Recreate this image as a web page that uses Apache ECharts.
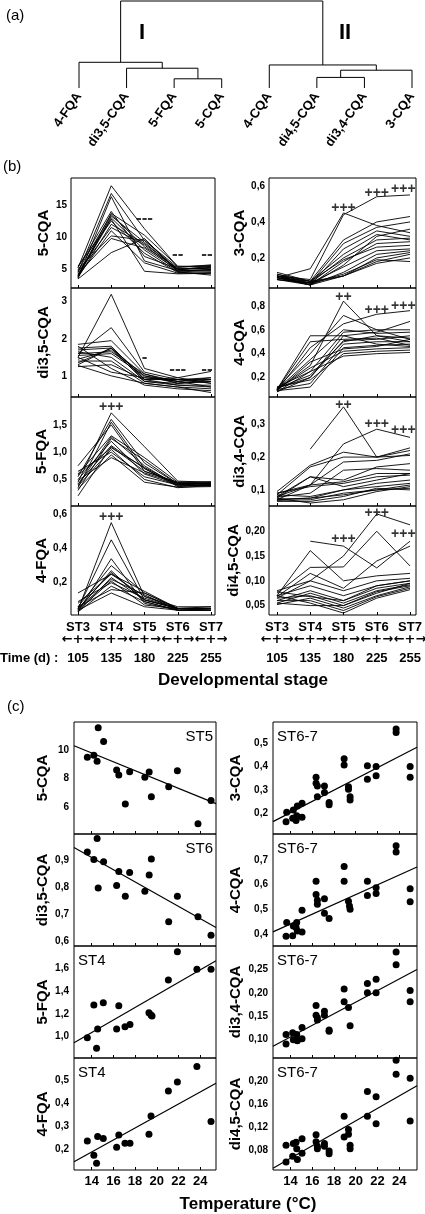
<!DOCTYPE html>
<html><head><meta charset="utf-8">
<script src="https://cdn.jsdelivr.net/npm/echarts@6/dist/echarts.min.js"></script>
<style>html,body{margin:0;padding:0;background:#fff}#c{width:425px;height:1214px}</style>
</head><body><div id="c"></div>
<script>
// ================= DATA =================
// (a) dendrogram
const leaves = ['4-FQA','di3,5-CQA','5-FQA','5-CQA','4-CQA','di4,5-CQA','di3,4-CQA','3-CQA'];
// [left node, right node, height]; nodes 0-7 = leaves, 8.. = merges in order
const merges = [[2,3,9.3],[1,8,20],[0,9,26],[5,6,10.7],[11,7,18],[4,12,23.3],[10,13,88]];
const clusterNames = ['I','II'];

// (b) developmental stages
const stages = ['ST3','ST4','ST5','ST6','ST7'];
const days = ['105','135','180','225','255'];

const b5CQA = [
 [5.2,18.0,11.3,5.4,5.6],[4.5,16.8,9.5,5.0,5.2],[3.6,16.3,6.3,4.8,4.9],[4.0,13.7,10.3,5.5,5.4],
 [4.8,13.5,8.5,5.2,5.0],[3.8,13.3,9.2,4.9,5.5],[4.2,13.0,8.0,4.6,4.8],[5.5,12.5,7.5,4.5,4.3],
 [3.7,12.0,9.0,5.0,5.2],[4.6,11.5,8.8,4.7,5.0],[3.9,11.0,6.0,4.4,4.5],[5.0,10.2,9.5,5.3,5.7],
 [4.3,9.8,8.3,4.9,4.7],[3.5,7.6,9.8,4.6,4.1],[4.0,12.8,4.7,4.3,4.4],[5.3,14.0,7.0,5.1,5.3]];
const bDi35CQA = [
 [1.5,3.2,1.2,0.95,1.12],[1.6,2.3,1.1,0.9,0.95],[1.85,1.95,1.05,0.85,0.9],[1.3,1.75,1.0,0.8,0.85],
 [1.7,1.75,0.95,0.9,0.8],[1.45,1.7,0.9,0.75,0.75],[1.55,1.6,1.0,0.85,0.7],[1.65,1.5,0.85,0.8,0.9],
 [1.4,1.4,0.8,0.7,0.65],[1.25,1.3,0.9,0.95,0.8],[1.8,1.2,0.75,0.65,0.6],[1.5,1.1,0.95,0.85,0.95],
 [1.35,1.75,0.85,0.75,0.7],[1.6,1.65,1.05,0.8,0.85],[1.28,1.0,0.8,0.7,0.55],[1.75,1.8,0.9,0.9,0.9]];
const b5FQA = [
 [0.45,1.72,1.1,0.47,0.45],[0.55,1.6,0.8,0.42,0.42],[0.35,1.55,0.7,0.4,0.4],[0.75,1.5,0.65,0.45,0.44],
 [0.6,1.3,0.9,0.45,0.46],[0.4,1.28,0.75,0.38,0.4],[0.3,1.25,0.85,0.42,0.43],[0.5,1.2,0.6,0.4,0.38],
 [0.42,1.12,0.7,0.37,0.41],[0.2,1.1,0.65,0.44,0.42],[0.38,1.05,0.5,0.35,0.39],[0.65,1.0,0.55,0.4,0.44],
 [0.33,0.95,0.45,0.36,0.37],[0.48,0.9,0.62,0.43,0.42],[0.58,1.08,0.72,0.41,0.4]];
const b4FQA = [
 [0.04,0.55,0.12,0.05,0.05],[0.05,0.45,0.1,0.05,0.05],[0.03,0.34,0.08,0.04,0.04],[0.06,0.3,0.14,0.05,0.05],
 [0.04,0.27,0.09,0.04,0.05],[0.14,0.25,0.15,0.05,0.04],[0.08,0.25,0.12,0.06,0.06],[0.03,0.23,0.1,0.05,0.05],
 [0.05,0.22,0.13,0.04,0.04],[0.04,0.21,0.07,0.05,0.06],[0.09,0.2,0.11,0.05,0.05],[0.03,0.18,0.09,0.04,0.04],
 [0.06,0.16,0.14,0.05,0.05],[0.04,0.14,0.06,0.04,0.04],[0.05,0.26,0.1,0.05,0.05]];
const b3CQA = [
 [0.1,0.08,0.44,0.54,0.55],[0.09,0.14,0.45,0.38,0.34],[0.12,0.07,0.3,0.4,0.43],[0.08,0.06,0.28,0.37,0.4],
 [0.1,0.05,0.25,0.35,0.32],[0.09,0.07,0.22,0.33,0.3],[0.11,0.06,0.2,0.3,0.31],[0.08,0.05,0.18,0.28,0.29],
 [0.1,0.07,0.19,0.26,0.27],[0.09,0.06,0.15,0.24,0.25],[0.1,0.05,0.12,0.22,0.24],[0.08,0.06,0.1,0.2,0.23],
 [0.09,0.05,0.1,0.18,0.22],[0.11,0.07,0.1,0.17,0.2],[0.1,0.06,0.11,0.19,0.18],[0.09,0.05,0.16,0.32,0.36]];
const b4CQA = [
 [0.1,0.3,0.84,0.55,0.5],[0.11,0.4,0.72,0.6,0.52],[0.1,0.55,0.55,0.58,0.67],[0.09,0.45,0.65,0.73,0.76],
 [0.12,0.25,0.58,0.6,0.6],[0.1,0.35,0.6,0.57,0.58],[0.08,0.2,0.51,0.52,0.55],[0.11,0.22,0.5,0.55,0.53],
 [0.1,0.15,0.48,0.5,0.5],[0.09,0.12,0.45,0.47,0.48],[0.1,0.28,0.42,0.44,0.45],[0.12,0.18,0.4,0.42,0.43],
 [0.08,0.25,0.38,0.4,0.41],[0.1,0.5,0.52,0.53,0.47],[0.09,0.33,0.44,0.46,0.52],[0.11,0.2,0.55,0.48,0.46]];
const bDi34CQA = [
 [null,0.224,0.353,0.2,0.205],[0.09,0.115,0.24,0.285,0.26],[0.095,0.175,0.215,0.2,0.228],[0.085,0.17,0.2,0.2,0.22],
 [0.08,0.115,0.185,0.19,0.21],[0.075,0.14,0.13,0.17,0.18],[0.07,0.115,0.125,0.15,0.15],[0.08,0.14,0.11,0.13,0.15],
 [0.072,0.075,0.1,0.12,0.13],[0.09,0.11,0.12,0.14,0.145],[0.068,0.07,0.09,0.1,0.115],[0.075,0.06,0.07,0.095,0.11],
 [0.085,0.08,0.1,0.11,0.12],[0.07,0.075,0.085,0.1,0.105],[0.078,0.09,0.16,0.165,0.16],[0.065,0.065,0.08,0.105,0.1]];
const bDi45CQA = [
 [null,0.18,0.17,0.126,0.18],[0.08,0.1,0.15,0.235,0.213],[0.07,0.161,0.1,0.11,0.115],[0.075,0.127,0.128,0.2,0.13],
 [0.068,0.115,0.085,0.14,0.17],[0.065,0.1,0.08,0.1,0.105],[0.07,0.09,0.07,0.09,0.1],[0.06,0.08,0.06,0.085,0.095],
 [0.055,0.075,0.055,0.08,0.092],[0.065,0.07,0.05,0.078,0.09],[0.052,0.065,0.045,0.07,0.088],[0.06,0.06,0.04,0.068,0.085],
 [0.07,0.055,0.035,0.065,0.082],[0.055,0.05,0.05,0.075,0.095],[0.078,0.068,0.06,0.09,0.1]];

// significance marks [stage index, value, text]
const bMarks5CQA = [[2,13.0,'---'],[3,7.3,'--'],[3.88,7.3,'--']];
const bMarksDi35CQA = [[2,1.5,'-'],[3,1.17,'---'],[3.88,1.17,'--']];
const bMarks5FQA = [[1,1.83,'+++']];
const bMarks4FQA = [[1,0.58,'+++']];
const bMarks3CQA = [[2,0.475,'+++'],[3,0.56,'+++'],[3.8,0.58,'+++']];
const bMarks4CQA = [[2,0.876,'++'],[3,0.765,'+++'],[3.8,0.8,'+++']];
const bMarksDi34CQA = [[2,0.359,'++'],[3,0.3,'+++'],[3.8,0.283,'+++']];
const bMarksDi45CQA = [[2,0.185,'+++'],[3,0.237,'+++'],[3.8,0.195,'+++']];

// (c) temperature correlations [temperature °C, value]
const c5CQA = [[13.6,9.49],[14.2,9.63],[14.5,9.21],[14.6,11.56],[15.1,10.6],[16.3,8.6],[16.5,8.26],[17.1,6.23],[17.5,8.49],[18.9,8.09],[19.3,8.47],[19.5,6.74],[21.1,7.44],[21.9,8.56],[23.8,4.84],[25.0,6.47]];
const cDi35CQA = [[13.6,0.930],[14.2,0.902],[14.5,0.979],[14.6,0.797],[15.1,0.894],[16.3,0.807],[16.5,0.858],[17.1,0.767],[17.5,0.854],[18.9,0.785],[19.3,0.845],[19.5,0.904],[21.1,0.673],[21.9,0.767],[23.8,0.692],[25.0,0.624]];
const c5FQA = [[13.6,0.991],[14.2,1.278],[14.45,0.898],[14.55,1.067],[15.07,1.299],[16.3,1.067],[16.5,1.272],[17.07,1.088],[17.53,1.108],[19.28,1.211],[19.47,1.19],[19.56,1.181],[21.07,1.498],[21.9,1.746],[23.7,1.591],[25.0,1.591]];
const c4FQA = [[13.6,0.236],[14.2,0.174],[14.45,0.139],[14.55,0.255],[15.07,0.246],[16.3,0.209],[16.5,0.262],[17.07,0.226],[17.53,0.226],[19.28,0.265],[19.47,0.344],[21.07,0.452],[21.9,0.491],[23.7,0.558],[25.0,0.320]];
const c3CQA = [[13.6,0.164],[13.66,0.204],[14.21,0.179],[14.27,0.214],[14.52,0.169],[14.58,0.189],[14.64,0.231],[15.07,0.183],[15.07,0.243],[16.36,0.354],[16.36,0.329],[16.48,0.317],[16.48,0.271],[17.13,0.317],[17.13,0.289],[17.56,0.246],[17.56,0.236],[18.94,0.433],[18.94,0.407],[19.34,0.314],[19.34,0.303],[19.49,0.271],[19.49,0.257],[21.08,0.403],[21.08,0.346],[21.88,0.4],[21.88,0.361],[23.72,0.561],[23.72,0.546],[25.01,0.4],[25.01,0.354]];
const c4CQA = [[13.6,0.391],[13.66,0.447],[14.21,0.393],[14.27,0.433],[14.52,0.427],[14.58,0.447],[14.64,0.413],[15.07,0.409],[15.07,0.496],[16.36,0.613],[16.36,0.56],[16.48,0.537],[16.48,0.52],[17.13,0.543],[17.13,0.484],[17.56,0.463],[18.94,0.673],[18.94,0.613],[19.34,0.533],[19.43,0.513],[19.49,0.5],[21.08,0.613],[21.08,0.556],[21.88,0.587],[21.88,0.564],[23.72,0.757],[23.72,0.731],[25.01,0.583],[25.01,0.531]];
const cDi34CQA = [[13.6,0.111],[13.6,0.091],[14.21,0.115],[14.27,0.1],[14.52,0.1],[14.58,0.111],[14.64,0.098],[15.07,0.102],[15.07,0.126],[16.36,0.173],[16.36,0.152],[16.48,0.142],[16.48,0.147],[17.13,0.161],[17.13,0.152],[17.56,0.121],[17.56,0.118],[18.94,0.208],[18.94,0.181],[19.34,0.169],[19.49,0.13],[21.08,0.22],[21.08,0.2],[21.88,0.229],[21.88,0.2],[23.72,0.287],[23.72,0.26],[25.01,0.205],[25.01,0.181]];
const cDi45CQA = [[13.6,0.089],[13.6,0.06],[14.21,0.07],[14.27,0.092],[14.52,0.094],[14.58,0.083],[14.64,0.064],[15.07,0.1],[15.07,0.075],[16.36,0.107],[16.36,0.095],[16.48,0.087],[16.48,0.083],[17.13,0.092],[17.13,0.087],[17.56,0.079],[17.56,0.074],[18.94,0.139],[18.94,0.103],[19.34,0.116],[19.34,0.108],[19.49,0.089],[19.49,0.083],[21.08,0.182],[21.08,0.139],[21.88,0.173],[21.88,0.126],[23.72,0.236],[23.72,0.212],[25.01,0.205],[25.01,0.131]];
// regression lines: [[T0,v0],[T1,v1]]
const fit5CQA = [[12.37,10.3],[25.46,6.25]];
const fitDi35CQA = [[12.37,0.946],[25.46,0.652]];
const fit5FQA = [[12.37,0.947],[25.46,1.667]];
const fit4FQA = [[12.37,0.146],[25.46,0.486]];
const fit3CQA = [[12.4,0.164],[25.64,0.483]];
const fit4CQA = [[12.4,0.409],[25.64,0.671]];
const fitDi34CQA = [[12.4,0.086],[25.64,0.25]];
const fitDi45CQA = [[12.4,0.049],[25.64,0.192]];
const cStageLabels = ['ST5','ST6','ST4','ST4','ST6-7','ST6-7','ST6-7','ST6-7'];

// tick label values
const tempTicks = [14,16,18,20,22,24];
const stageTicks = [0,1,2,3,4];

// ================= BUILD =================
const FONT = '"Liberation Sans", Arial, Helvetica, sans-serif';
const grids=[], xAxes=[], yAxes=[], series=[], graphics=[];
const fmt = d => v => (+v).toFixed(d).replace('.',',');

// (a) dendrogram
(function(){
  grids.push({left:79,right:13,top:1,height:87,show:false,outerBoundsMode:'none'});
  xAxes.push({gridIndex:0,type:'value',min:0,max:7,axisLine:{show:false},axisTick:{show:false},splitLine:{show:false},
    axisLabel:{customValues:leaves.map((_,i)=>i),formatter:v=>leaves[Math.round(v)],rotate:55,margin:6,
      fontFamily:FONT,fontWeight:'bold',fontSize:13,color:'#000'}});
  yAxes.push({gridIndex:0,type:'value',min:0,max:88,show:false});
  const nx = leaves.map((_,i)=>i), nh = leaves.map(()=>0), segs=[];
  merges.forEach(([a,b,h])=>{
    segs.push({coords:[[nx[a],nh[a]],[nx[a],h],[nx[b],h],[nx[b],nh[b]]]});
    nx.push((nx[a]+nx[b])/2); nh.push(h);
  });
  series.push({type:'lines',coordinateSystem:'cartesian2d',xAxisIndex:0,yAxisIndex:0,polyline:true,data:segs,
    lineStyle:{color:'#000',width:1,opacity:1},silent:true,clip:false});
})();

// (b) panels
const bPanels = [
 {name:'5-CQA',lines:b5CQA,marks:bMarks5CQA,ticks:[5,10,15],dec:0,range:[2.1,19.2],col:0,row:0},
 {name:'di3,5-CQA',lines:bDi35CQA,marks:bMarksDi35CQA,ticks:[1,2,3],dec:0,range:[0.43,3.37],col:0,row:1},
 {name:'5-FQA',lines:b5FQA,marks:bMarks5FQA,ticks:[0.5,1.0,1.5],dec:1,range:[0.015,2.01],col:0,row:2},
 {name:'4-FQA',lines:b4FQA,marks:bMarks4FQA,ticks:[0.2,0.4,0.6],dec:1,range:[0.012,0.647],col:0,row:3},
 {name:'3-CQA',lines:b3CQA,marks:bMarks3CQA,ticks:[0.2,0.4,0.6],dec:1,range:[0.033,0.644],col:1,row:0},
 {name:'4-CQA',lines:b4CQA,marks:bMarks4CQA,ticks:[0.2,0.4,0.6,0.8],dec:1,range:[0.037,0.95],col:1,row:1},
 {name:'di3,4-CQA',lines:bDi34CQA,marks:bMarksDi34CQA,ticks:[0.1,0.2,0.3],dec:1,range:[0.051,0.383],col:1,row:2},
 {name:'di4,5-CQA',lines:bDi45CQA,marks:bMarksDi45CQA,ticks:[0.05,0.10,0.15,0.20],dec:2,range:[0.031,0.251],col:1,row:3}];
const bCols = [{left:71,right:210,xr:[-0.21,4.12],gap:20},{left:269,right:9,xr:[-0.24,4.18],gap:21}];
const bTops=[178,288,397,506], bHeights=[110,109,109,109];

bPanels.forEach(p=>{
  const c=bCols[p.col], gi=grids.length, bottom=p.row===3;
  grids.push({left:c.left,right:c.right,top:bTops[p.row],height:bHeights[p.row],show:true,borderColor:'#000',borderWidth:1,outerBoundsMode:'none'});
  xAxes.push({gridIndex:gi,type:'value',min:c.xr[0],max:c.xr[1],axisLine:{show:false},splitLine:{show:false},
    axisTick:{show:true,inside:true,length:3,customValues:stageTicks,lineStyle:{color:'#000',width:1}},
    axisLabel:{show:bottom,customValues:stageTicks,margin:5,
      formatter:v=>{const i=Math.round(v);return '{s|'+stages[i]+'}\n{a|←+→}\n{d|'+days[i]+'}';},
      rich:{s:{fontFamily:FONT,fontWeight:'bold',fontSize:13,lineHeight:14,color:'#000'},
            a:{fontFamily:'"DejaVu Sans"',fontWeight:'bold',fontSize:13,lineHeight:12,color:'#000'},
            d:{fontFamily:FONT,fontWeight:'bold',fontSize:13,lineHeight:24,color:'#000'}}}});
  yAxes.push({gridIndex:gi,type:'value',min:p.range[0],max:p.range[1],axisLine:{show:false},axisTick:{show:false},splitLine:{show:false},
    axisLabel:{customValues:p.ticks,formatter:fmt(p.dec),margin:4,fontFamily:FONT,fontWeight:'bold',fontSize:10,color:'#000'},
    name:p.name,nameLocation:'middle',nameRotate:90,nameGap:c.gap,
    nameTextStyle:{fontFamily:FONT,fontWeight:'bold',fontSize:15,color:'#000'}});
  p.lines.forEach(l=>{
    series.push({type:'line',xAxisIndex:gi,yAxisIndex:gi,symbol:'none',silent:true,
      data:l.map((v,k)=>[k,v]).filter(d=>d[1]!==null),lineStyle:{color:'#000',width:0.9}});
  });
  series.push({type:'scatter',xAxisIndex:gi,yAxisIndex:gi,symbolSize:1,silent:true,itemStyle:{color:'rgba(0,0,0,0)'},
    data:p.marks.map(m=>({name:m[2],value:[m[0],m[1]],
      label:{fontSize: m[2][0]==='-' ? 17 : 14}})),
    label:{show:true,position:'inside',formatter:'{b}',fontFamily:FONT,fontWeight:'bold',fontSize:14,color:'#000'}});
});

// (c) panels
const cPanels = [
 {name:'5-CQA',pts:c5CQA,fit:fit5CQA,ticks:[6,8,10],dec:0,range:[4.13,11.96],col:0,row:0},
 {name:'di3,5-CQA',pts:cDi35CQA,fit:fitDi35CQA,ticks:[0.6,0.7,0.8,0.9],dec:1,range:[0.584,0.996],col:0,row:1},
 {name:'5-FQA',pts:c5FQA,fit:fit5FQA,ticks:[1.0,1.2,1.4,1.6],dec:1,range:[0.813,1.796],col:0,row:2},
 {name:'4-FQA',pts:c4FQA,fit:fit4FQA,ticks:[0.2,0.3,0.4,0.5],dec:1,range:[0.11,0.595],col:0,row:3},
 {name:'3-CQA',pts:c3CQA,fit:fit3CQA,ticks:[0.2,0.3,0.4,0.5],dec:1,range:[0.111,0.591],col:1,row:0},
 {name:'4-CQA',pts:c4CQA,fit:fit4CQA,ticks:[0.4,0.5,0.6,0.7],dec:1,range:[0.352,0.804],col:1,row:1},
 {name:'di3,4-CQA',pts:cDi34CQA,fit:fitDi34CQA,ticks:[0.10,0.15,0.20,0.25],dec:2,range:[0.061,0.30],col:1,row:2},
 {name:'di4,5-CQA',pts:cDi45CQA,fit:fitDi45CQA,ticks:[0.08,0.12,0.16,0.20],dec:2,range:[0.046,0.24],col:1,row:3}];
const cCols = [{left:74,right:209,xr:[12.37,25.46],gap:24},{left:273,right:8,xr:[12.4,25.64],gap:30}];
const cTops=[722,834,946,1058], cHeights=[112,112,112,112];

cPanels.forEach((p,idx)=>{
  const c=cCols[p.col], gi=grids.length, bottom=p.row===3;
  grids.push({left:c.left,right:c.right,top:cTops[p.row],height:cHeights[p.row],show:true,borderColor:'#000',borderWidth:1,outerBoundsMode:'none'});
  xAxes.push({gridIndex:gi,type:'value',min:c.xr[0],max:c.xr[1],axisLine:{show:false},splitLine:{show:false},
    axisTick:{show:true,inside:true,length:3,customValues:tempTicks,lineStyle:{color:'#000',width:1}},
    axisLabel:{show:bottom,customValues:tempTicks,margin:5,fontFamily:FONT,fontWeight:'bold',fontSize:13,color:'#000'}});
  yAxes.push({gridIndex:gi,type:'value',min:p.range[0],max:p.range[1],axisLine:{show:false},axisTick:{show:false},splitLine:{show:false},
    axisLabel:{customValues:p.ticks,formatter:fmt(p.dec),margin:5,fontFamily:FONT,fontWeight:'bold',fontSize:10,color:'#000'},
    name:p.name,nameLocation:'middle',nameRotate:90,nameGap:c.gap,
    nameTextStyle:{fontFamily:FONT,fontWeight:'bold',fontSize:15,color:'#000'}});
  series.push({type:'line',xAxisIndex:gi,yAxisIndex:gi,symbol:'none',silent:true,data:p.fit,lineStyle:{color:'#000',width:1.2}});
  series.push({type:'scatter',xAxisIndex:gi,yAxisIndex:gi,symbol:'circle',symbolSize:7,silent:true,itemStyle:{color:'#000',opacity:1},data:p.pts});
  const right = p.col===0 && p.row<2;
  graphics.push({type:'text',x: right ? (425-c.right-3) : (c.left+4), y: cTops[p.row]+15,
    style:{text:cStageLabels[idx],align: right?'right':'left',verticalAlign:'middle',font:'15px '+FONT,fill:'#000'}});
});

// free texts
const T = (text,x,y,font,align)=>graphics.push({type:'text',x,y,style:{text,align:align||'left',verticalAlign:'middle',font:font+' '+FONT,fill:'#000'}});
T('(a)',6,16,'15px');
T('(b)',3,167,'15px');
T('(c)',7,707,'15px');
T(clusterNames[0],142,33,'bold 22px','center');
T(clusterNames[1],345,33,'bold 22px','center');
T('Time (d) :',0,658,'bold 13px');
T('Developmental stage',243,680,'bold 17px','center');
T('Temperature (°C)',248,1204,'bold 17px','center');

const chart = echarts.init(document.getElementById('c'),null,{renderer:'canvas'});
chart.setOption({animation:false,backgroundColor:'#fff',grid:grids,xAxis:xAxes,yAxis:yAxes,series:series,graphic:graphics});
</script></body></html>
